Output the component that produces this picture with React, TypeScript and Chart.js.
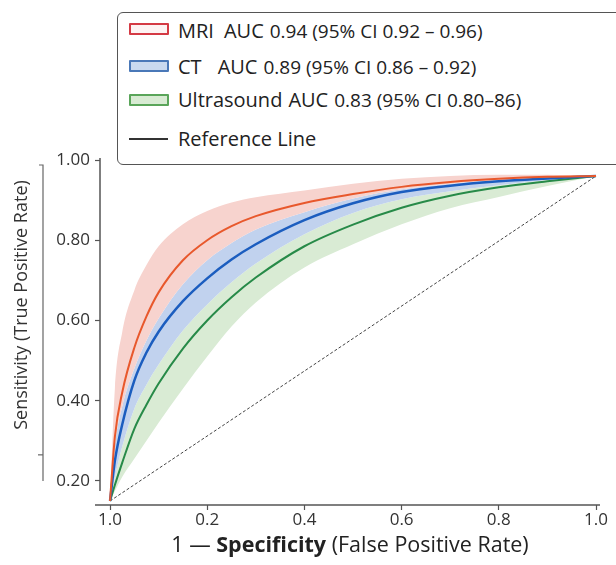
import React, { useEffect, useRef } from "react";
import { Chart, registerables } from "chart.js";

Chart.register(...registerables);

const FONT = "'Open Sans', 'Noto Sans', sans-serif";

// False positive rate sample points
const fpr = [0, 0.01, 0.025, 0.05, 0.075, 0.1, 0.15, 0.2, 0.25, 0.3, 0.4, 0.5, 0.6, 0.7, 0.8, 0.9, 1.0];

// MRI
const mriTpr = [0.15, 0.31, 0.42, 0.532, 0.61, 0.67, 0.75, 0.8, 0.835, 0.86, 0.893, 0.915, 0.933, 0.945, 0.953, 0.958, 0.96];
const mriUpper = [0.15, 0.43, 0.57, 0.675, 0.738, 0.785, 0.84, 0.873, 0.894, 0.907, 0.924, 0.941, 0.953, 0.96, 0.963, 0.963, 0.96];
const mriLower = [0.15, 0.29, 0.385, 0.48, 0.55, 0.605, 0.69, 0.75, 0.793, 0.827, 0.87, 0.904, 0.927, 0.941, 0.95, 0.956, 0.96];

// CT
const ctTpr = [0.15, 0.25, 0.34, 0.45, 0.52, 0.572, 0.648, 0.705, 0.752, 0.79, 0.85, 0.892, 0.92, 0.936, 0.947, 0.954, 0.96];
const ctUpper = [0.15, 0.29, 0.385, 0.48, 0.55, 0.605, 0.69, 0.75, 0.793, 0.827, 0.87, 0.904, 0.927, 0.941, 0.95, 0.956, 0.96];
const ctLower = [0.15, 0.21, 0.285, 0.38, 0.44, 0.49, 0.575, 0.64, 0.695, 0.742, 0.815, 0.868, 0.902, 0.922, 0.937, 0.95, 0.96];

// Ultrasound
const usTpr = [0.15, 0.19, 0.245, 0.33, 0.39, 0.443, 0.53, 0.6, 0.658, 0.707, 0.785, 0.839, 0.881, 0.911, 0.932, 0.947, 0.96];
const usUpper = [0.15, 0.21, 0.285, 0.38, 0.44, 0.49, 0.575, 0.64, 0.695, 0.742, 0.815, 0.868, 0.902, 0.922, 0.937, 0.95, 0.96];
const usLower = [0.15, 0.175, 0.21, 0.255, 0.3, 0.345, 0.43, 0.51, 0.585, 0.645, 0.732, 0.79, 0.84, 0.88, 0.908, 0.935, 0.96];

// Reference line
const refX = [0, 1];
const refY = [0.15, 0.96];

// Ticks
const xTickValues = [0, 0.2, 0.4, 0.6, 0.8, 1.0];
const xTickLabels = ["1.0", "0.2", "0.4", "0.6", "0.8", "1.0"];
const yTickValues = [0.2, 0.4, 0.6, 0.8, 1.0];
const yTickLabels = ["0.20", "0.40", "0.60", "0.80", "1.00"];

const pts = (xs: number[], ys: number[]) => xs.map((x, i) => ({ x, y: ys[i] }));

const labelFor = (vals: number[], labels: string[], v: number) => {
  const i = vals.findIndex((t) => Math.abs(t - v) < 1e-9);
  return i >= 0 ? labels[i] : "";
};

const decorPlugin = {
  id: "decor",
  afterDraw(chart: any) {
    const { ctx, chartArea, scales } = chart;
    const ys = scales.y;
    ctx.save();
    ctx.strokeStyle = "#555";
    ctx.lineWidth = 1.5;
    // y axis spine (stops short of x axis)
    ctx.beginPath();
    ctx.moveTo(chartArea.left, chartArea.top - 2);
    ctx.lineTo(chartArea.left, ys.getPixelForValue(0.175));
    ctx.stroke();
    // x axis spine
    ctx.beginPath();
    ctx.moveTo(chartArea.left - 5, chartArea.bottom);
    ctx.lineTo(chartArea.right, chartArea.bottom);
    ctx.stroke();
    // bracket line beside the y title
    const bx = chartArea.left - 57;
    ctx.lineWidth = 1.2;
    ctx.strokeStyle = "#666";
    ctx.beginPath();
    ctx.moveTo(bx - 4, chartArea.top + 5);
    ctx.lineTo(bx, chartArea.top + 5);
    ctx.lineTo(bx, ys.getPixelForValue(0.2));
    ctx.stroke();
    ctx.beginPath();
    ctx.moveTo(bx - 5, ys.getPixelForValue(0.265));
    ctx.lineTo(bx, ys.getPixelForValue(0.265));
    ctx.stroke();

    // y title
    ctx.fillStyle = "#333";
    ctx.font = `18px ${FONT}`;
    ctx.textAlign = "center";
    ctx.textBaseline = "middle";
    ctx.save();
    ctx.translate(22, chartArea.top + 145);
    ctx.rotate(-Math.PI / 2);
    ctx.fillText("Sensitivity (True Positive Rate)", 0, 0);
    ctx.restore();

    // x title with bold part
    const parts = [
      { t: "1 \u2014 ", f: `21.5px ${FONT}` },
      { t: "Specificity", f: `bold 21.5px ${FONT}` },
      { t: " (False Positive Rate)", f: `21.5px ${FONT}` },
    ];
    let total = 0;
    const widths = parts.map((p) => {
      ctx.font = p.f;
      const w = ctx.measureText(p.t).width;
      total += w;
      return w;
    });
    let x = (chartArea.left + chartArea.right) / 2 - total / 2;
    const y = chartArea.bottom + 47;
    ctx.textAlign = "left";
    ctx.textBaseline = "alphabetic";
    ctx.fillStyle = "#222";
    parts.forEach((p, i) => {
      ctx.font = p.f;
      ctx.fillText(p.t, x, y);
      x += widths[i];
    });
    ctx.restore();
  },
};

const bandBase = {
  borderWidth: 0,
  borderColor: "transparent",
  pointRadius: 0,
  cubicInterpolationMode: "monotone" as const,
};

const lineBase = {
  pointRadius: 0,
  fill: false,
  cubicInterpolationMode: "monotone" as const,
};

export default function App() {
  const canvasRef = useRef<HTMLCanvasElement | null>(null);

  useEffect(() => {
    if (!canvasRef.current) return;
    const chart = new Chart(canvasRef.current, {
      type: "line",
      data: {
        datasets: [
          { ...lineBase, label: "MRI", data: pts(fpr, mriTpr), borderColor: "#e8582c", borderWidth: 2 },
          { ...lineBase, label: "CT", data: pts(fpr, ctTpr), borderColor: "#1b5dbf", borderWidth: 2.5 },
          { ...lineBase, label: "Ultrasound", data: pts(fpr, usTpr), borderColor: "#278a48", borderWidth: 2 },
          {
            label: "Reference",
            data: pts(refX, refY),
            borderColor: "#444",
            borderWidth: 1,
            borderDash: [3, 2],
            pointRadius: 0,
            fill: false,
          },
          { ...bandBase, label: "mriUpper", data: pts(fpr, mriUpper), fill: false },
          { ...bandBase, label: "mriLower", data: pts(fpr, mriLower), fill: "-1", backgroundColor: "#f7d3ce" },
          { ...bandBase, label: "ctUpper", data: pts(fpr, ctUpper), fill: false },
          { ...bandBase, label: "ctLower", data: pts(fpr, ctLower), fill: "-1", backgroundColor: "#c1d2ee" },
          { ...bandBase, label: "usUpper", data: pts(fpr, usUpper), fill: false },
          { ...bandBase, label: "usLower", data: pts(fpr, usLower), fill: "-1", backgroundColor: "#d9ebd4" },
        ],
      },
      options: {
        animation: false,
        responsive: false,
        devicePixelRatio: 1,
        layout: { padding: { top: 160, right: 16, left: 0, bottom: 0 } },
        plugins: {
          legend: { display: false },
          tooltip: { enabled: false },
          filler: { propagate: false },
        },
        scales: {
          x: {
            type: "linear",
            min: -0.0206,
            max: 1.0082,
            border: { display: false },
            grid: {
              drawOnChartArea: false,
              drawTicks: true,
              tickLength: 5,
              tickColor: "#555",
              tickWidth: 1.2,
            },
            afterBuildTicks: (scale: any) => {
              scale.ticks = xTickValues.map((v) => ({ value: v }));
            },
            afterFit: (scale: any) => {
              scale.height = 60;
              scale.paddingLeft = 0;
              scale.paddingRight = 0;
            },
            ticks: {
              padding: 0,
              color: "#333",
              font: { family: FONT, size: 17 },
              maxRotation: 0,
              autoSkip: false,
              callback: (v: any) => labelFor(xTickValues, xTickLabels, Number(v)),
            },
          },
          y: {
            type: "linear",
            min: 0.14,
            max: 1.0,
            border: { display: false },
            grid: {
              drawOnChartArea: false,
              drawTicks: true,
              tickLength: 5,
              tickColor: "#555",
              tickWidth: 1.2,
            },
            afterBuildTicks: (scale: any) => {
              scale.ticks = yTickValues.map((v) => ({ value: v }));
            },
            afterFit: (scale: any) => {
              scale.width = 100;
              scale.paddingTop = 0;
              scale.paddingBottom = 0;
            },
            ticks: {
              padding: 5,
              color: "#333",
              font: { family: FONT, size: 17 },
              autoSkip: false,
              callback: (v: any) => labelFor(yTickValues, yTickLabels, Number(v)),
            },
          },
        },
      },
      plugins: [decorPlugin],
    } as any);
    return () => chart.destroy();
  }, []);

  const textStyle: React.CSSProperties = {
    position: "absolute",
    left: 178,
    whiteSpace: "nowrap",
    fontFamily: FONT,
    color: "#222",
    lineHeight: 1,
    transform: "translateY(-50%)",
  };
  const swatch = (top: number, border: string, bg: string): React.CSSProperties => ({
    position: "absolute",
    left: 129,
    top: top - 6,
    width: 40,
    height: 12,
    border: `2px solid ${border}`,
    background: bg,
    boxSizing: "border-box",
    borderRadius: 1,
  });

  return (
    <div
      style={{
        position: "absolute",
        left: 0,
        top: 0,
        width: 616,
        height: 565,
        overflow: "hidden",
        background: "#fff",
      }}
    >
      <canvas ref={canvasRef} width={616} height={565} style={{ width: 616, height: 565, display: "block" }} />
      <div
        style={{
          position: "absolute",
          left: 117,
          top: 12,
          width: 520,
          height: 153,
          border: "1.5px solid #555",
          borderRadius: 6,
          background: "#fff",
          boxSizing: "border-box",
        }}
      />
      <div style={swatch(29, "#d43a44", "#fdf3f3")} />
      <div style={{ ...textStyle, top: 31 }}>
        <span style={{ fontSize: 20 }}>MRI</span>
        <span style={{ fontSize: 20, marginLeft: 10 }}>AUC</span>
        <span style={{ fontSize: 19, marginLeft: 6 }}>0.94 (95% CI 0.92 – 0.96)</span>
      </div>
      <div style={swatch(66, "#4a78b8", "#c9d9ef")} />
      <div style={{ ...textStyle, top: 67 }}>
        <span style={{ fontSize: 20 }}>CT</span>
        <span style={{ fontSize: 20, marginLeft: 16 }}>AUC</span>
        <span style={{ fontSize: 19, marginLeft: 6 }}>0.89 (95% CI 0.86 – 0.92)</span>
      </div>
      <div style={swatch(100, "#5aa55a", "#d8ebd3")} />
      <div style={{ ...textStyle, top: 100 }}>
        <span style={{ fontSize: 20 }}>Ultrasound</span>
        <span style={{ fontSize: 20, marginLeft: 6 }}>AUC</span>
        <span style={{ fontSize: 19, marginLeft: 6 }}>0.83 (95% CI 0.80–86)</span>
      </div>
      <div
        style={{
          position: "absolute",
          left: 129,
          top: 138,
          width: 39,
          height: 2,
          background: "#333",
        }}
      />
      <div style={{ ...textStyle, top: 139 }}>
        <span style={{ fontSize: 20 }}>Reference Line</span>
      </div>
    </div>
  );
}
